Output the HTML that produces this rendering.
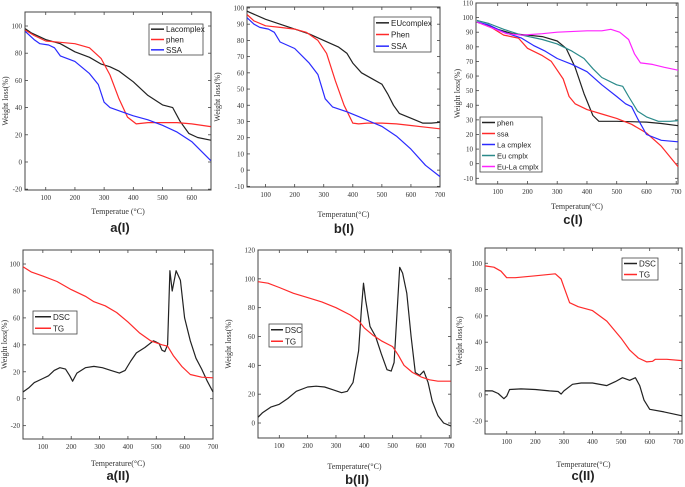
<!DOCTYPE html>
<html><head><meta charset="utf-8"><style>
html,body{margin:0;padding:0;background:#fff;}
svg{display:block;font-family:"Liberation Serif",serif;}
</style></head><body>
<svg id="fig" width="685" height="487" viewBox="0 0 685 487" xmlns="http://www.w3.org/2000/svg"></svg>
<script>
// ---- data ----
const aI_lacomplex=[[30,98],[50,95],[100,90],[150,87],[200,81],[250,77],[290,72],[320,70],[350,67],[400,59],[450,49],[500,42],[535,40],[560,30],[590,21],[620,18],[665,16]];
const aI_phen=[[30,97],[60,93],[100,89],[150,88],[200,87],[250,84],[290,76],[320,64],[350,47],[380,33],[410,28],[450,29],[500,29],[550,29],[600,28],[665,26]];
const aI_ssa=[[30,96],[60,90],[80,87],[110,86],[130,84],[150,78],[200,74],[250,65],[280,57],[300,44],[320,40],[360,37],[400,34],[450,31],[500,27],[550,22],[600,15],[665,1]];
const bI_eucomplex=[[36,98],[100,93],[150,90],[200,87],[250,84],[300,80],[350,76],[380,72],[400,66],[430,60],[470,56],[500,53],[520,47],[540,40],[560,35],[600,32],[640,29],[670,29],[700,29.5]];
const bI_phen=[[36,96],[60,92],[100,89],[150,88],[200,87],[240,85],[280,80],[310,72],[340,55],[370,40],[400,29],[420,28.5],[450,29],[500,29],[550,28.5],[600,27.5],[650,26.5],[700,25.5]];
const bI_ssa=[[36,94],[60,90],[80,88],[110,87],[130,85],[150,79],[200,75],[250,66],[280,59],[295,50],[305,44],[330,39],[380,36],[420,33],[460,30],[500,27],[550,21],[600,13],[650,3],[700,-4]];
const cI_phen=[[30,97],[100,92],[150,89],[200,88],[250,87],[300,84],[330,79],[360,66],[390,48],[420,33],[440,29],[500,29],[600,28.5],[650,27.5],[706,26]];
const cI_ssa=[[30,97],[80,93],[120,88],[170,86],[200,79],[250,74],[280,70],[320,58],[340,46],[360,41],[400,37],[450,34],[500,31],[550,27],[600,21],[650,12],[706,-2]];
const cI_la=[[30,97],[70,95],[120,90],[180,86],[220,81],[260,77],[300,72],[350,68],[400,63],[450,54],[500,46],[530,41],[550,39],[570,31],[600,20],[650,16],[706,15]];
const cI_eu=[[30,98],[70,96],[120,92],[180,88],[250,85],[300,82],[350,77],[390,72],[420,65],[450,59],[500,54],[520,53],[540,46],[570,36],[600,32],[640,29],[680,29],[706,29.5]];
const cI_eula=[[30,97],[80,93],[130,89],[180,88],[250,89],[300,90],[400,91],[450,91],[480,92],[510,90],[540,85],[560,75],[580,69],[620,68],[660,66],[706,64]];
const aII_dsc=[[30,5],[50,8],[70,12],[100,15],[120,17],[140,21],[160,23],[180,22],[195,17],[205,13],[220,19],[250,23],[280,24],[310,23],[340,21],[370,19],[390,21],[410,28],[430,34],[460,38],[490,43],[500,42],[510,41],[520,36],[530,35],[540,40],[548,95],[556,80],[570,95],[585,88],[600,60],[620,43],[640,30],[660,22],[680,13],[700,5]];
const aII_tg=[[30,98],[60,94],[100,91],[150,87],[200,81],[250,76],[280,72],[320,69],[360,64],[400,57],[440,49],[480,43],[520,40],[540,39],[560,32],[590,24],[620,18],[660,16],[700,15.5]];
const bII_dsc=[[25,4],[40,7],[70,11],[100,13],[130,17],[160,22],[200,25],[230,25.5],[260,25],[290,23],[320,21],[340,22],[360,28],[380,50],[390,80],[397,97],[405,85],[420,67],[440,60],[460,48],[480,37],[495,36],[505,42],[515,75],[525,108],[535,104],[550,90],[565,60],[580,35],[595,33],[610,36],[625,28],[640,15],[660,5],[680,0],[705,-2]];
const bII_tg=[[25,98],[60,97],[100,94],[150,90],[200,87],[250,84],[300,80],[350,75],[380,71],[400,66],[430,61],[460,57],[500,53],[520,47],[540,40],[570,35],[600,32],[630,30],[660,29],[705,29]];
const cII_dsc=[[24,3],[50,3],[70,1],[90,-3],[100,-1],[110,4],[150,4.5],[200,4],[250,3],[280,2.5],[290,0.5],[300,3],[330,8],[360,9],[400,9],[450,7],[480,10],[505,13],[530,11],[550,13],[565,7],[580,-4],[600,-11],[650,-13],[713,-16]];
const cII_tg=[[24,98],[55,97],[80,94],[100,89],[130,89],[200,90.5],[270,92],[290,88],[300,82],[320,70],[350,67],[400,64],[450,56],[500,43],[530,34],[560,28],[590,25],[610,25.5],[620,27],[660,27],[713,26]];
const aI_xticks=[100,200,300,400,500,600];
const aI_yticks=[-20,0,20,40,60,80,100];
const bI_yticks=[-10,0,10,20,30,40,50,60,70,80,90,100];
const cI_yticks=[-10,0,10,20,30,40,50,60,70,80,90,100,110];
const x7ticks=[100,200,300,400,500,600,700];
const bII_yticks=[0,20,40,60,80,100,120];

const NS="http://www.w3.org/2000/svg";
const svg=document.getElementById('fig');
function mk(tag,attrs,parent,text){const e=document.createElementNS(NS,tag);for(const k in attrs)e.setAttribute(k,attrs[k]);if(text!==undefined)e.textContent=text;(parent||svg).appendChild(e);return e;}

function panel(p){
  const g=mk('g',{});
  
  
  const sx=v=>p.L+(v-p.x0)/(p.x1-p.x0)*(p.R-p.L);
  const sy=v=>p.B-(v-p.y0)/(p.y1-p.y0)*(p.B-p.T);
  const box=mk('rect',{x:p.L,y:p.T,width:p.R-p.L,height:p.B-p.T,fill:'none',stroke:'#444','stroke-width':1},g);
  
  
  p.xt.forEach(v=>{
    const x=sx(v);
    mk('line',{x1:x,x2:x,y1:p.B,y2:p.B-3,stroke:'#444','stroke-width':0.8},g);
    mk('line',{x1:x,x2:x,y1:p.T,y2:p.T+3,stroke:'#444','stroke-width':0.8},g);
    const t=mk('text',{x:x,y:p.B+10,'font-size':7,fill:'#333','text-anchor':'middle'},g,String(v));
    
    
  });
  p.yt.forEach(v=>{
    const y=sy(v);
    mk('line',{x1:p.L,x2:p.L+3,y1:y,y2:y,stroke:'#444','stroke-width':0.8},g);
    mk('line',{x1:p.R,x2:p.R-3,y1:y,y2:y,stroke:'#444','stroke-width':0.8},g);
    const t=mk('text',{x:p.L-3,y:y+2.5,'font-size':7,fill:'#333','text-anchor':'end'},g,String(v));
    
    
  });
  const xt=mk('text',{x:(p.L+p.R)/2,y:p.xtY,'font-size':8,fill:'#333','text-anchor':'middle'},g,p.xtitle);
  
  
  const yc=(p.T+p.B)/2;
  const yt=mk('text',{x:p.ytX,y:yc,'font-size':8,fill:'#333','text-anchor':'middle',transform:`rotate(-90 ${p.ytX} ${yc})`},g,'Weight loss(%)');
  
  
  const cap=mk('text',{x:p.capX,y:p.capY,'font-size':13,'font-family':'Liberation Sans, sans-serif','font-weight':'bold',fill:'#222','text-anchor':'middle'},g,p.cap);
  
  
  p.series.forEach(s=>{
    const pl=mk('polyline',{points:s.d.map(q=>sx(q[0]).toFixed(1)+','+sy(q[1]).toFixed(1)).join(' '),fill:'none',stroke:s.c,'stroke-width':1.2,'stroke-linejoin':'round'},g);
    
    
  });
  const lg=p.leg;
  const lb=mk('rect',{x:lg.x,y:lg.y,width:lg.w,height:lg.h,fill:'#fff',stroke:'#444','stroke-width':0.8},g);
  
  
  const step=lg.h/p.series.length;
  p.series.forEach((s,i)=>{
    const y=lg.y+step*(i+0.5);
    mk('line',{x1:lg.x+2,x2:lg.x+lg.sw,y1:y,y2:y,stroke:s.c,'stroke-width':1.5},g);
    const t=mk('text',{x:lg.x+lg.sw+2,y:y+3,'font-size':lg.fs,'font-family':'Liberation Sans, sans-serif',fill:'#222'},g,s.n);
    
    
  });
}
const BK='#222',RD='#ff2a2a',BL='#2a2aff',TL='#2a8a8a',MG='#ff22ff';
panel({name:'panel-a-I',L:25,R:211,T:12,B:190,x0:29,x1:666,y0:-20.6,y1:110.3,xt:aI_xticks,yt:aI_yticks,xtitle:'Temperatue (°C)',xtY:214,ytX:8,cap:'a(I)',capX:120,capY:232,
  leg:{x:149,y:24,w:54,h:31,sw:15,fs:8},series:[{n:'Lacomplex',c:BK,d:aI_lacomplex},{n:'phen',c:RD,d:aI_phen},{n:'SSA',c:BL,d:aI_ssa}]});
panel({name:'panel-b-I',L:247,R:440,T:7,B:187,x0:36,x1:700,y0:-10.4,y1:100.6,xt:x7ticks,yt:bI_yticks,xtitle:'Temperatun(°C)',xtY:217,ytX:220,cap:'b(I)',capX:344,capY:233,
  leg:{x:374,y:17,w:57,h:35,sw:15,fs:8},series:[{n:'EUcomplex',c:BK,d:bI_eucomplex},{n:'Phen',c:RD,d:bI_phen},{n:'SSA',c:BL,d:bI_ssa}]});
panel({name:'panel-c-I',L:476,R:678,T:3,B:184,x0:27,x1:706,y0:-13.9,y1:110,xt:x7ticks,yt:cI_yticks,xtitle:'Temperatun(°C)',xtY:209,ytX:460,cap:'c(I)',capX:573,capY:224,
  leg:{x:480,y:117,w:62,h:55,sw:15,fs:7.5},series:[{n:'phen',c:BK,d:cI_phen},{n:'ssa',c:RD,d:cI_ssa},{n:'La cmplex',c:BL,d:cI_la},{n:'Eu cmplx',c:TL,d:cI_eu},{n:'Eu-La cmplx',c:MG,d:cI_eula}]});
panel({name:'panel-a-II',L:23,R:213,T:250,B:439,x0:30,x1:700,y0:-29.9,y1:110.4,xt:x7ticks,yt:aI_yticks,xtitle:'Temperature(°C)',xtY:466,ytX:7,cap:'a(II)',capX:118,capY:480,
  leg:{x:33,y:311,w:44,h:23,sw:18,fs:8},series:[{n:'DSC',c:BK,d:aII_dsc},{n:'TG',c:RD,d:aII_tg}]});
panel({name:'panel-b-II',L:258,R:451,T:250,B:438,x0:24.8,x1:706,y0:-10.4,y1:120,xt:x7ticks,yt:bII_yticks,xtitle:'Temperature(°C)',xtY:469,ytX:231,cap:'b(II)',capX:357,capY:484,
  leg:{x:269,y:324,w:33,h:23,sw:14,fs:8},series:[{n:'DSC',c:BK,d:bII_dsc},{n:'TG',c:RD,d:bII_tg}]});
panel({name:'panel-c-II',L:485,R:682,T:248,B:434,x0:24,x1:713,y0:-29.8,y1:111.6,xt:x7ticks,yt:aI_yticks,xtitle:'Temperature(°C)',xtY:467,ytX:462,cap:'c(II)',capX:583,capY:480,
  leg:{x:622,y:258,w:36,h:22,sw:15,fs:8},series:[{n:'DSC',c:BK,d:cII_dsc},{n:'TG',c:RD,d:cII_tg}]});
</script>
</body></html>
